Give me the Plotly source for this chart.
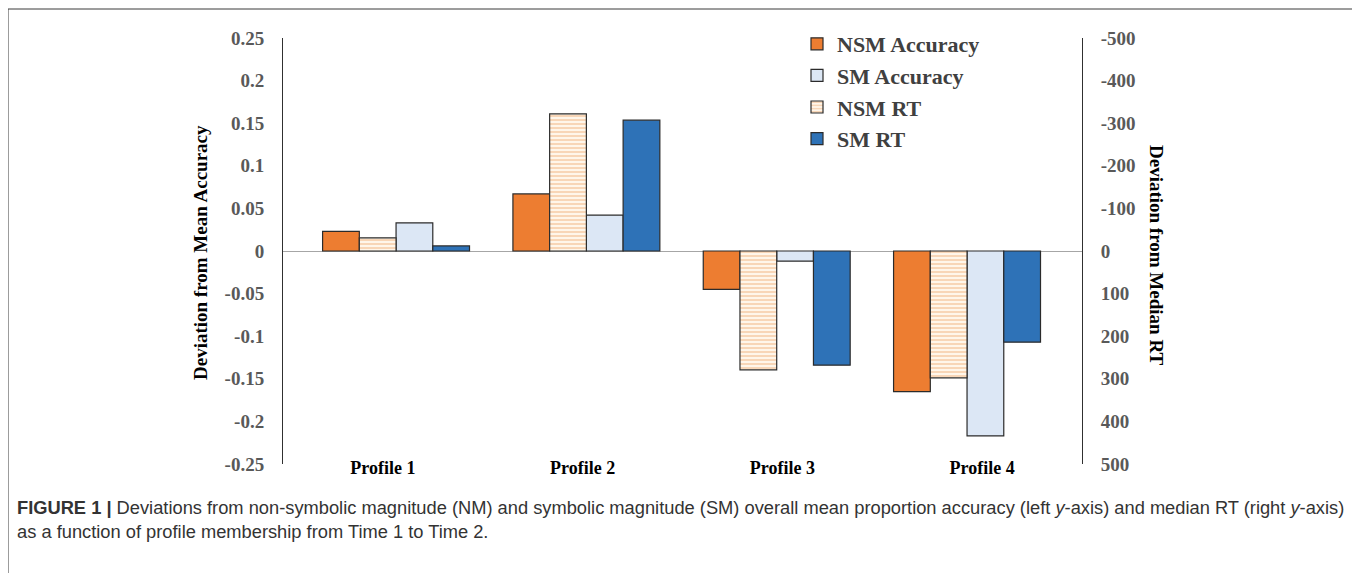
import plotly.graph_objects as go

# ---- data ----
profiles = ["Profile 1", "Profile 2", "Profile 3", "Profile 4"]
group_pos = [0, 1, 2, 3]
nsm_accuracy = [0.023, 0.067, -0.045, -0.165]
sm_accuracy = [0.033, 0.042, -0.012, -0.217]
nsm_rt = [-31, -322, 279, 298]
sm_rt = [-12, -307, 268, 214]

acc_ticks = [0.25, 0.2, 0.15, 0.1, 0.05, 0, -0.05, -0.1, -0.15, -0.2, -0.25]
acc_labels = ["0.25", "0.2", "0.15", "0.1", "0.05", "0", "-0.05", "-0.1", "-0.15", "-0.2", "-0.25"]
rt_ticks = [-500, -400, -300, -200, -100, 0, 100, 200, 300, 400, 500]
rt_labels = ["-500", "-400", "-300", "-200", "-100", "0", "100", "200", "300", "400", "500"]

caption_1 = ("<b>FIGURE 1 |</b> Deviations from non-symbolic magnitude (NM) and symbolic magnitude (SM) "
             "overall mean proportion accuracy (left <i>y</i>-axis) and median RT (right <i>y</i>-axis)")
caption_2 = "as a function of profile membership from Time 1 to Time 2."

# ---- layout geometry (pixels, page coordinates; page body has an 8px margin) ----
OFF = 8
W, H = 1360 - OFF, 573 - OFF
L, R, T, B = 283 - OFF, 1082 - OFF, 38 - OFF, 464 - OFF
pw, ph = R - L, B - T


def px_x(p):
    return (p - OFF - L) / pw


def px_y(p):
    return (B - (p - OFF)) / ph


SERIF = "Liberation Serif, Times New Roman, serif"
edge = dict(color="#2b2b2b", width=1.2)
bw = 0.193

fig = go.Figure()
fig.add_trace(go.Bar(x=group_pos, y=nsm_accuracy, name="NSM Accuracy", legendrank=1,
                     width=bw, offset=-2 * bw,
                     marker=dict(color="#ED7D31", line=edge)))
fig.add_trace(go.Bar(x=group_pos, y=nsm_rt, name="NSM RT", legendrank=3, yaxis="y2",
                     width=bw, offset=-bw,
                     marker=dict(color="#FFF4E6", line=edge,
                                 pattern=dict(shape="-", fgcolor="#EFA66A", bgcolor="#FFF6EA",
                                              size=4, solidity=0.4))))
fig.add_trace(go.Bar(x=group_pos, y=sm_accuracy, name="SM Accuracy", legendrank=2,
                     width=bw, offset=0,
                     marker=dict(color="#DCE7F5", line=edge)))
fig.add_trace(go.Bar(x=group_pos, y=sm_rt, name="SM RT", legendrank=4, yaxis="y2",
                     width=bw, offset=bw,
                     marker=dict(color="#2E72B7", line=edge)))
# invisible trace carrying the category labels
fig.add_trace(go.Scatter(x=profiles, y=[0, 0, 0, 0], xaxis="x2", mode="markers",
                         marker=dict(opacity=0), showlegend=False, hoverinfo="skip"))

tick_font = dict(family=SERIF, size=19, color="#595959", weight="bold")

fig.update_layout(
    width=W, height=H,
    margin=dict(l=L, r=W - R, t=T, b=H - B, pad=0),
    paper_bgcolor="white", plot_bgcolor="white",
    barmode="overlay",
    xaxis=dict(range=[-0.594, 3.604], showticklabels=False, showgrid=False,
               zeroline=False, showline=False, ticks=""),
    xaxis2=dict(overlaying="x", anchor="y", side="bottom", type="category",
                range=[-0.5, 3.5], showgrid=False, zeroline=False, showline=False, ticks="",
                tickfont=dict(family=SERIF, size=18, color="#000000", weight="bold"),
                ticklabelstandoff=-9),
    yaxis=dict(range=[-0.25, 0.25], tickvals=acc_ticks, ticktext=acc_labels,
               showgrid=False, zeroline=True, zerolinecolor="#A6A6A6", zerolinewidth=1,
               showline=True, linecolor="#303030", linewidth=1, ticks="",
               ticklabelstandoff=14, tickfont=tick_font),
    yaxis2=dict(range=[500, -500], tickvals=rt_ticks, ticktext=rt_labels,
                overlaying="y", side="right", anchor="x",
                showgrid=False, zeroline=False,
                showline=True, linecolor="#303030", linewidth=1, ticks="",
                ticklabelstandoff=14, tickfont=tick_font),
    legend=dict(x=px_x(797), y=px_y(23), xanchor="left", yanchor="top",
                bgcolor="rgba(0,0,0,0)", traceorder="normal",
                font=dict(family=SERIF, size=22, color="#404040", weight="bold"),
                itemwidth=30, tracegroupgap=0),
    showlegend=True,
)

# axis titles
fig.add_annotation(text="<b>Deviation from Mean Accuracy</b>", textangle=-90,
                   x=px_x(200), y=px_y(253), xref="paper", yref="paper",
                   xanchor="center", yanchor="middle",
                   showarrow=False, font=dict(family=SERIF, size=19, color="#000000"))
fig.add_annotation(text="<b>Deviation from Median RT</b>", textangle=90,
                   x=px_x(1157), y=px_y(255), xref="paper", yref="paper",
                   xanchor="center", yanchor="middle",
                   showarrow=False, font=dict(family=SERIF, size=19, color="#000000"))

# caption
cap_font = dict(family="Liberation Sans, Arial, sans-serif", size=18.3, color="#333333")
fig.add_annotation(text=caption_1, x=px_x(15), y=px_y(507), xref="paper", yref="paper",
                   xanchor="left", yanchor="middle", showarrow=False, font=cap_font)
fig.add_annotation(text=caption_2, x=px_x(15), y=px_y(531), xref="paper", yref="paper",
                   xanchor="left", yanchor="middle", showarrow=False, font=cap_font)

# outer frame
fig.add_shape(type="rect", xref="paper", yref="paper",
              x0=px_x(8), x1=px_x(1355), y0=px_y(590), y1=px_y(9),
              line=dict(color="#3a3a3a", width=1), fillcolor="rgba(0,0,0,0)", layer="below")

fig.write_html("out.html")
